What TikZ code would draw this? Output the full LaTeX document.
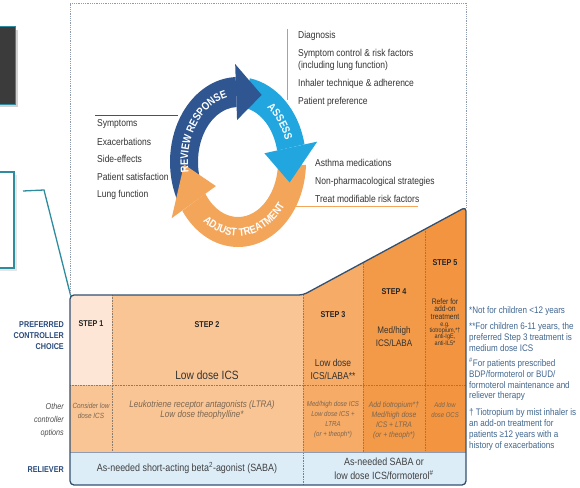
\documentclass[tikz,border=0pt]{standalone}
\usepackage{fontspec}
\setmainfont{Liberation Sans}[FakeStretch=0.85]
\usepackage{tikz}
\usetikzlibrary{calc}
\usetikzlibrary{decorations.text}

\definecolor{navyarrow}{HTML}{2F5690}
\definecolor{bluearrow}{HTML}{22A6E0}
\definecolor{orangearrow}{HTML}{F3A55A}
\definecolor{navytext}{HTML}{2B4B7C}
\definecolor{tealline}{HTML}{2E8C9E}
\definecolor{noteblue}{HTML}{40668F}
\definecolor{listgray}{HTML}{333333}
\definecolor{othergray}{HTML}{7A6652}
\definecolor{step1col}{HTML}{FDE6D6}
\definecolor{step2col}{HTML}{F9C595}
\definecolor{step3col}{HTML}{F6AB67}
\definecolor{step4col}{HTML}{F39A48}
\definecolor{step5col}{HTML}{F39540}
\definecolor{relblue}{HTML}{DCEDF8}
\definecolor{edgecol}{HTML}{34506F}
\definecolor{dotgray}{HTML}{8A7D70}
\definecolor{framegray}{HTML}{8E9BB0}

\begin{document}
\begin{tikzpicture}[x=1pt,y=-1pt,
	item/.style={anchor=west,inner sep=0pt,text=listgray,align=left,font=\fontsize{10}{12}\selectfont},
	rowlabel/.style={anchor=east,inner sep=0pt,align=right,text=navytext,font=\bfseries\fontsize{8.5}{11}\selectfont},
	steptitle/.style={inner sep=0pt,text=black!85,font=\bfseries\fontsize{8.5}{10}\selectfont},
	stepdrug/.style={inner sep=0pt,align=center,text=black!80},
	othercell/.style={inner sep=0pt,align=center,text=othergray,font=\itshape\fontsize{#1}{10}\selectfont},
	reliever/.style={inner sep=0pt,align=center,text=black!75,font=\fontsize{10.5}{13.5}\selectfont},
	note/.style={anchor=west,inner sep=0pt,align=left,text=noteblue,font=\fontsize{9.5}{10.8}\selectfont},
	divider/.style={densely dotted,draw=dotgray,line width=.6pt},
	cycletext/.style={decorate,decoration={text along path,text align=center,
		text={|\color{white}\bfseries\fontsize{11}{11}\selectfont|#1}}}]
	\useasboundingbox (0,0) rectangle (580,487);

	% side boxes and callout
	\fill[black!35,opacity=.5] (0,30) rectangle (18,107);
	\filldraw[fill=black!77,draw=tealline,line width=1pt] (-3,27) rectangle (15,104);
	\fill[black!20,opacity=.5] (0,175) rectangle (17,271);
	\filldraw[fill=white,draw=tealline,line width=1.3pt] (-3,172) rectangle (14,268);
	\draw[tealline,line width=1.3pt] (23,191) -- (44,190) -- (71,297);

	% dotted frame round the cycle
	\draw[densely dotted,draw=framegray,line width=.8pt] (70,296) -- (70,3) -- (466,3) -- (466,207);

	% cycle
	\coordinate (hub) at (238,162);
	\fill[navyarrow] ($(hub)+(155:68 and 85)$) arc[start angle=155,end angle=268,x radius=68,y radius=85]
		-- ($(hub)+(268:40 and 55)$) arc[start angle=268,end angle=155,x radius=40,y radius=55] -- cycle;
	\fill[bluearrow] ($(hub)+(280:68 and 85)$) arc[start angle=280,end angle=348,x radius=68,y radius=85]
		-- ($(hub)+(348:40 and 55)$) arc[start angle=348,end angle=280,x radius=40,y radius=55] -- cycle;
	\fill[orangearrow] ($(hub)+(362:68 and 85)$) arc[start angle=362,end angle=505,x radius=68,y radius=85]
		-- ($(hub)+(505:40 and 55)$) arc[start angle=505,end angle=362,x radius=40,y radius=55] -- cycle;
	\fill[orangearrow] ($(hub)+(505:27 and 42)$) -- ($(hub)+(538:54 and 70)$) -- ($(hub)+(505:81 and 98)$) -- cycle;
	\fill[navyarrow] ($(hub)+(268:27 and 42)$) -- ($(hub)+(295:56 and 74)$) -- ($(hub)+(268:81 and 98)$) -- cycle;
	\fill[bluearrow] ($(hub)+(348:27 and 42)$) -- ($(hub)+(377:54 and 70)$) -- ($(hub)+(348:81 and 98)$) -- cycle;
	\path[cycletext={REVIEW RESPONSE}] ($(hub)+(160:50 and 66)$) arc[start angle=160,end angle=272,x radius=50,y radius=66];
	\path[cycletext={ASSESS}] ($(hub)+(292:50 and 66)$) arc[start angle=292,end angle=352,x radius=50,y radius=66];
	\path[cycletext={ADJUST TREATMENT}] ($(hub)+(142:58 and 74)$) arc[start angle=142,end angle=22,x radius=58,y radius=74];

	% lists round the cycle
	\draw[navyarrow,line width=.8pt] (95,115) -- (178,115);
	\draw[bluearrow!75,line width=.8pt] (287,29) -- (287,100);
	\draw[orangearrow,line width=.8pt] (293,206) -- (418,206);
	\node[item] (review 1) at (97,124) {Symptoms};
	\node[item] (review 2) at (97,142) {Exacerbations};
	\node[item] (review 3) at (97,159) {Side-effects};
	\node[item] (review 4) at (97,177) {Patient satisfaction};
	\node[item] (review 5) at (97,195) {Lung function};
	\node[item] (assess 1) at (298,36) {Diagnosis};
	\node[item] (assess 2) at (298,60) {Symptom control \& risk factors\\(including lung function)};
	\node[item] (assess 3) at (298,84) {Inhaler technique \& adherence};
	\node[item] (assess 4) at (298,102) {Patient preference};
	\node[item] (adjust 1) at (315,163) {Asthma medications};
	\node[item] (adjust 2) at (315,182) {Non-pharmacological strategies};
	\node[item] (adjust 3) at (315,199) {Treat modifiable risk factors};

	% step table
	\begin{scope}
		\clip[rounded corners=4] (70,295) -- (70,485) -- (466,485) -- (466,207) -- (303,295) -- cycle;
		\fill[step1col] (70,295) rectangle (112,385);
		\fill[step2col] (70,385) rectangle (112,452);
		\fill[step2col] (112,295) rectangle (303,452);
		\fill[step3col] (303,295) -- (363,262.6) -- (363,452) -- (303,452) -- cycle;
		\fill[step4col] (363,262.6) -- (425,229.1) -- (425,452) -- (363,452) -- cycle;
		\fill[step5col] (425,229.1) -- (466,207) -- (466,452) -- (425,452) -- cycle;
		\fill[relblue] (70,452) rectangle (466,485);
	\end{scope}
	\draw[divider] (70,385) -- (466,385);
	\draw[divider] (112,295) -- (112,452);
	\draw[divider] (303,295) -- (303,485);
	\draw[divider] (363,262.6) -- (363,452);
	\draw[divider] (425,229.1) -- (425,452);
	\draw[draw=framegray,line width=.5pt] (70,452) -- (466,452);
	\draw[draw=edgecol,line width=1.3pt,rounded corners=4] (70,295) -- (70,485) -- (466,485) -- (466,207) -- (303,295) -- cycle;

	% row labels
	\node[rowlabel] (pref label) at (64,336) {PREFERRED\\CONTROLLER\\CHOICE};
	\node[rowlabel,font=\itshape\fontsize{8.5}{13}\selectfont,text=black!70] (other label) at (64,420) {Other\\controller\\options};
	\node[rowlabel] (rel label) at (64,470) {RELIEVER};

	% preferred controller
	\node[steptitle] (step1) at (91,324) {STEP 1};
	\node[steptitle] (step2) at (207,325) {STEP 2};
	\node[steptitle] (step3) at (333,315) {STEP 3};
	\node[steptitle] (step4) at (394,292) {STEP 4};
	\node[steptitle] (step5) at (445,263) {STEP 5};
	\node[stepdrug,font=\fontsize{12}{14}\selectfont] (step2 pref) at (207,375) {Low dose ICS};
	\node[stepdrug,font=\fontsize{10}{13}\selectfont] (step3 pref) at (333,369) {Low dose\\ICS/LABA**};
	\node[stepdrug,font=\fontsize{9.5}{13}\selectfont] (step4 pref) at (394,337) {Med/high\\ICS/LABA};
	\node[stepdrug,font=\fontsize{8}{7.7}\selectfont] (step5 pref) at (445,309) {Refer for\\add-on\\treatment};
	\node[stepdrug,font=\fontsize{6.5}{6.3}\selectfont] (step5 eg) at (445,334) {e.g.\\tiotropium,*†\\anti-IgE,\\anti-IL5*};

	% other controller options
	\node[othercell=7.5] (step1 other) at (91,411) {Consider low\\dose ICS};
	\node[othercell=9.5] (step2 other) at (202,410.5) {Leukotriene receptor antagonists (LTRA)\\Low dose theophylline*};
	\node[othercell=7.2] (step3 other) at (333,420) {Med/high dose ICS\\Low dose ICS +\\LTRA\\(or + theoph*)};
	\node[othercell=8] (step4 other) at (394,420) {Add tiotropium*†\\Med/high dose\\ICS + LTRA\\(or + theoph*)};
	\node[othercell=7] (step5 other) at (445,410) {Add low\\dose OCS};

	% reliever
	\node[reliever] (rel low) at (187,468) {As-needed short-acting beta\textsuperscript{2}-agonist (SABA)};
	\node[reliever] (rel high) at (384,468.5) {As-needed SABA or\\low dose ICS/formoterol\textsuperscript{\#}};

	% footnotes
	\node[note] (note 1) at (469,311) {*Not for children <12 years};
	\node[note] (note 2) at (469,337) {**For children 6-11 years, the\\preferred Step 3 treatment is\\medium dose ICS};
	\node[note] (note 3) at (469,379.5) {\textsuperscript{\#}For patients prescribed\\BDP/formoterol or BUD/\\formoterol maintenance and\\reliever therapy};
	\node[note] (note 4) at (469,429.5) {† Tiotropium by mist inhaler is\\an add-on treatment for\\patients ≥12 years with a\\history of exacerbations};
\end{tikzpicture}
\end{document}
